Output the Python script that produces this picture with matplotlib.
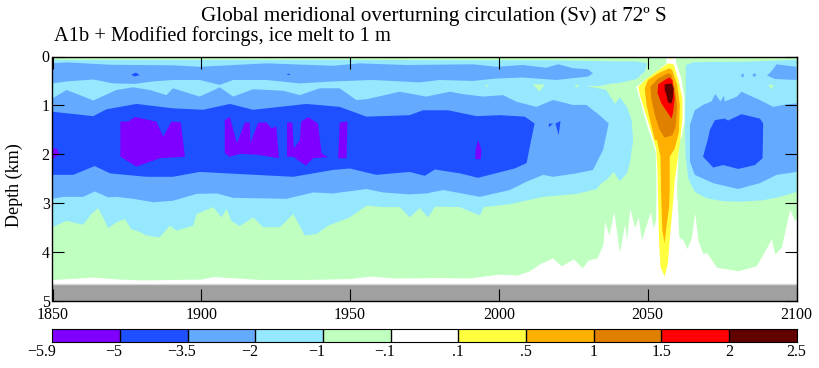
import matplotlib
matplotlib.use("Agg")
import matplotlib.pyplot as plt
from matplotlib.colors import ListedColormap, BoundaryNorm
from matplotlib.transforms import ScaledTranslation
import numpy as np

plt.rcParams['font.family'] = ['Liberation Serif', 'DejaVu Serif']

# contour bands: (year, depth in km)
level_labels = ['\u22125.9', '\u22125', '\u22123.5', '\u22122', '\u22121', '\u2212.1', '.1', '.5', '1', '1.5', '2', '2.5']
colors = ['#7f00ff', '#1e50ff', '#64aaff', '#96e8ff', '#bfffbf', '#ffffff',
          '#ffff40', '#ffb000', '#e08000', '#ff0000', '#600000']
purple, deep, blue, cyan, green, white, yellow, orange, dkorange, red, dkred = colors

# lower edge of the -1..-.1 band
green_edge = [(1850, 4.56), (1864, 4.51), (1872, 4.55), (1880, 4.57), (1900, 4.55), (1904, 4.50), (1920, 4.56),
              (1935, 4.56), (1950, 4.54), (1957, 4.49), (1965, 4.53), (1980, 4.52), (1990, 4.53), (2000, 4.45),
              (2006, 4.47), (2010, 4.39), (2014, 4.23), (2018, 4.12), (2021, 4.28), (2025, 4.14), (2028, 4.32),
              (2030, 4.16), (2033, 4.12), (2035, 3.83), (2035.5, 3.36), (2037, 3.66), (2038.6, 3.17), (2040.5, 4.0),
              (2042.3, 3.41), (2042.9, 3.75), (2044, 3.1), (2045.6, 3.5), (2046.8, 3.28), (2047.9, 3.75),
              (2050.9, 3.17), (2051.8, 3.5), (2052.7, 3.34), (2053, 2.9), (2059.9, 2.9), (2060.2, 3.41), (2060.5, 3.7),
              (2061.9, 3.75), (2063.2, 3.93), (2064.7, 3.70), (2065.8, 3.19),
              (2066.9, 3.77), (2068.6, 4.04), (2069.7, 4.0), (2073.1, 4.31), (2080.4, 4.38), (2086.5, 4.28),
              (2091.6, 3.73), (2092.7, 4.04), (2094.9, 3.90), (2097.7, 3.12), (2099.4, 3.36), (2100, 3.3)]

cyan_left = [(1850, 0.07), (1950, 0.07), (2020, 0.08), (2040, 0.1), (2046, 0.1), (2049.8, 0.14), (2049, 0.31),
             (2046.2, 0.46), (2040.6, 0.54), (2038.3, 0.55), (2034, 0.60), (2029, 0.60), (2036, 0.68), (2039, 0.97),
             (2040.6, 0.83), (2043, 1.03), (2044.6, 1.3), (2045.1, 1.71), (2044, 2.18), (2043, 2.39), (2040.6, 2.55),
             (2038.6, 2.36), (2036.2, 2.52), (2034.5, 2.59), (2032.8, 2.71), (2026, 2.81), (2014.9, 2.87),
             (2003.7, 3.02), (1994.9, 3.08), (1993.6, 3.25), (1986.9, 3.08), (1978.5, 3.07), (1976.2, 3.29),
             (1973.4, 3.10), (1970, 3.29), (1966.7, 3.08), (1961.1, 3.08), (1955.5, 3.05), (1949.9, 3.29),
             (1942.6, 3.46), (1938.7, 3.63), (1934.8, 3.66), (1930.9, 3.22), (1926.4, 3.49), (1920.8, 3.49),
             (1917.4, 3.29), (1912.9, 3.47), (1910.1, 3.36), (1908.5, 3.12), (1906.8, 3.29), (1904, 3.08),
             (1898.4, 3.22), (1897.3, 3.46), (1891.7, 3.56), (1889.4, 3.46), (1886, 3.70), (1881.6, 3.66),
             (1878.8, 3.575), (1876.5, 3.53), (1874.3, 3.32), (1871.5, 3.39), (1868.7, 3.51), (1867, 3.29),
             (1865.3, 3.10), (1863.1, 3.22), (1860.3, 3.44), (1854.7, 3.36), (1850, 3.49)]

cyan_right = [(2062.8, 0.175), (2065.3, 0.12), (2072, 0.11), (2083.2, 0.106), (2099.4, 0.07), (2100, 0.07), (2100, 2.77),
              (2094.4, 2.87), (2088.8, 2.94), (2081, 2.97), (2075.4, 2.96), (2069.8, 2.9), (2065.8, 2.77),
              (2063.6, 2.49), (2062.7, 2.02), (2062.5, 1.33), (2062.8, 0.65)]

blue_upper = [(1850, 0.14), (1854.7, 0.12), (1870, 0.17), (1890.5, 0.18), (1899.5, 0.21), (1921.9, 0.14), (1944.3, 0.19),
              (1953.2, 0.14), (1968.9, 0.174), (1991.3, 0.16), (1999.1, 0.21), (2008, 0.174), (2015.9, 0.23),
              (2019.9, 0.16), (2024.9, 0.24), (2029.9, 0.26), (2031.6, 0.345), (2029.9, 0.41), (2019.3, 0.48),
              (2008.1, 0.43), (1999.1, 0.45), (1991.3, 0.50), (1980.1, 0.48), (1973.4, 0.53), (1957.7, 0.48),
              (1944.3, 0.51), (1933.1, 0.55), (1921.9, 0.48), (1910.7, 0.48), (1906.2, 0.58), (1899.5, 0.48),
              (1890.5, 0.48), (1883.8, 0.51), (1877.7, 0.56), (1870.4, 0.55), (1863.7, 0.47), (1854.7, 0.51), (1850, 0.55)]

blue_mid = [(1850, 0.855), (1854.7, 0.685), (1859.2, 0.79), (1863.7, 0.90), (1871.5, 0.685), (1877.1, 0.63),
            (1882.7, 0.685), (1888.3, 0.79), (1890.5, 0.65), (1899.5, 0.82), (1906.2, 0.63), (1910.7, 0.82),
            (1917.4, 0.67), (1927.5, 0.70), (1933.1, 0.79), (1939.8, 0.65), (1946.5, 0.65), (1952.1, 0.89),
            (1955.5, 0.875), (1966.7, 0.72), (1975.6, 0.82), (1983.5, 0.72), (1988, 0.77), (1994.7, 0.82),
            (2001.4, 0.79), (2005.9, 0.925), (2012.6, 1.03), (2018.2, 0.89), (2024.9, 0.99), (2029.4, 0.99),
            (2033.8, 1.2), (2036.9, 1.37), (2035, 1.91), (2031.6, 2.32), (2026, 2.39), (2018.2, 2.46), (2014.9, 2.42),
            (2009.3, 2.56), (2003.7, 2.73), (1993.6, 2.87), (1981.3, 2.73), (1975.7, 2.8), (1970, 2.82), (1961.1, 2.78),
            (1955.5, 2.71), (1944.3, 2.80), (1937.6, 2.78), (1928.6, 2.91), (1910.7, 2.89), (1905.1, 2.80),
            (1898.4, 2.81), (1890.5, 2.95), (1883.8, 2.98), (1877.1, 2.91), (1871.5, 2.87), (1868.7, 2.88),
            (1864.2, 2.76), (1860.3, 2.87), (1853.6, 2.87), (1850, 2.91)]

blue_right = [(2100, 0.96), (2095.5, 0.99), (2092.2, 1.03), (2087.7, 0.89), (2081.5, 0.72), (2080, 0.82), (2075.9, 0.92),
              (2075.6, 0.80), (2074.5, 0.92), (2072.7, 0.77), (2071.4, 0.92), (2068.6, 0.99), (2065.8, 1.1),
              (2064.2, 1.40), (2064.2, 2.15), (2065.8, 2.42), (2072, 2.59), (2080.4, 2.71), (2087.7, 2.59),
              (2093.3, 2.42), (2100, 2.36)]
blue_corner = [(2100, 0.21), (2093.3, 0.16), (2091.9, 0.28), (2090.1, 0.39), (2092.7, 0.46), (2100, 0.48)]
blue_spot1 = [(2081.3, 0.39), (2081.9, 0.34), (2082.5, 0.39), (2081.9, 0.43)]
blue_spot2 = [(2085.1, 0.38), (2085.8, 0.34), (2086.6, 0.38), (2085.8, 0.42)]

deep_left = [(1850, 1.13), (1863.7, 1.22), (1868.1, 1.08), (1878.2, 0.97), (1890.5, 1.06), (1900.6, 1.09), (1909.6, 0.97),
             (1917.4, 1.09), (1935.3, 0.97), (1946.5, 1.03), (1955.5, 1.23), (1970, 1.2), (1974.5, 1.1), (1982.9, 1.1),
             (1992.5, 1.22), (2000.3, 1.2), (2008.7, 1.23), (2012, 1.37), (2010.4, 1.84), (2009.3, 2.18), (2005.3, 2.29),
             (1993, 2.48), (1986.9, 2.39), (1978.5, 2.31), (1975.1, 2.44), (1970, 2.36), (1958.8, 2.42), (1949.9, 2.29),
             (1944.3, 2.32), (1930.9, 2.46), (1908.5, 2.39), (1899.5, 2.36), (1890.5, 2.46), (1881.6, 2.46),
             (1869.3, 2.39), (1864.2, 2.24), (1857, 2.42), (1850, 2.42)]
deep_right = [(2072.6, 1.30), (2075.9, 1.27), (2077, 1.31), (2081.5, 1.18), (2087.7, 1.27), (2088.8, 1.37), (2088.6, 2.08),
              (2086, 2.22), (2080.4, 2.30), (2075.4, 2.22), (2072, 2.27), (2068.6, 2.05), (2070.3, 1.67), (2070.9, 1.50)]
deep_spot1 = [(2016.8, 1.37), (2018.2, 1.37), (2016.8, 1.45)]
deep_spot2 = [(2019, 1.37), (2020.7, 1.32), (2020.1, 1.61)]
deep_spot3 = [(1876.5, 0.37), (1878, 0.33), (1879.3, 0.38), (1877.5, 0.41)]
deep_spot4 = [(1928.5, 0.37), (1929.5, 0.35), (1930, 0.38)]

purple_a = [(1872.8, 1.33), (1875.4, 1.33), (1877.7, 1.24), (1884.9, 1.33), (1887.2, 1.64), (1890, 1.33), (1893.1, 1.35),
            (1894.5, 2.05), (1886.1, 2.08), (1878.2, 2.25), (1872.8, 2.05)]
purple_b = [(1907.9, 1.30), (1909.6, 1.24), (1912, 1.78), (1914.6, 1.35), (1916.3, 1.35), (1916.5, 1.78), (1919.1, 1.35),
            (1921.9, 1.35), (1923.6, 1.47), (1925.2, 1.43), (1926.1, 2.08), (1919.1, 2.01), (1912.9, 1.99),
            (1909.6, 2.05), (1907.9, 1.98)]
purple_c = [(1928.8, 1.35), (1930.6, 1.35), (1931.1, 1.88), (1933.1, 1.71), (1933.6, 1.33), (1935.9, 1.24), (1939.2, 1.37),
            (1940.4, 1.98), (1942.6, 2.06), (1937.6, 2.08), (1935.1, 2.23), (1930.9, 2.05), (1928.8, 2.05)]
purple_d = [(1946.5, 1.35), (1949.1, 1.33), (1948.8, 2.08), (1946, 2.08)]
purple_e = [(1993, 1.71), (1994.1, 1.91), (1993.9, 2.1), (1992.1, 2.1), (1992.2, 1.91)]
purple_f = [(1850, 1.88), (1851.3, 1.88), (1852.5, 1.99), (1850, 2.1)]

green_spot1 = [(2011.4, 0.57), (2015.4, 0.57), (2013.7, 0.72)]
green_spot2 = [(2025.5, 0.58), (2027, 0.59), (2026, 0.64)]
green_spot3 = [(2090.5, 0.58), (2092.4, 0.58), (2091.6, 0.67)]
green_spot4 = [(1995.5, 0.58), (1996.5, 0.58), (1996, 0.63)]

plume_white = [(2056.3, 0), (2059.4, 0), (2059.6, 0.14), (2061.3, 0.45), (2062.4, 0.86), (2062.4, 1.33), (2061.3, 1.67),
               (2060.5, 1.71), (2059.9, 2.6), (2059.9, 3.41), (2056, 4.6), (2052.9, 3.75), (2052.9, 2.53), (2052.7, 1.95),
               (2051.5, 1.71), (2050.1, 1.47), (2048.4, 1.1), (2047.3, 0.86), (2046.2, 0.62), (2052.4, 0.345), (2056.3, 0.14)]
plume_yellow = [(2056.8, 0.14), (2058.7, 0.16), (2060.2, 0.45), (2061.7, 0.86), (2061.7, 1.27), (2060.8, 1.78),
                (2059.1, 2.53), (2058.5, 3.0), (2057.4, 3.75), (2056.8, 4.23), (2055.7, 4.50), (2054.3, 4.3),
                (2053.8, 3.75), (2053.3, 2.39), (2052.9, 1.91), (2051.8, 1.67), (2050.1, 1.33), (2048.7, 1.06),
                (2047.5, 0.82), (2046.8, 0.62), (2049.6, 0.46), (2052.9, 0.31)]
plume_top = [(2056.6, 0), (2059, 0), (2058.5, 0.04), (2057.2, 0.04)]
plume_orange = [(2057.2, 0.24), (2058.3, 0.28), (2059.9, 0.58), (2060.8, 0.99), (2060.5, 1.54), (2059.4, 1.81),
                (2059.1, 1.88), (2057.4, 2.05), (2057.4, 2.73), (2057.2, 3.07), (2056.3, 3.48), (2055.7, 3.82),
                (2054.9, 3.55), (2054.5, 2.8), (2054.3, 2.05), (2053.1, 1.71), (2052.4, 1.71), (2050.9, 1.33),
                (2049.6, 0.99), (2049, 0.65), (2050.1, 0.48), (2053.5, 0.345)]
plume_dkorange = [(2056.8, 0.345), (2057.9, 0.37), (2059.1, 0.65), (2059.9, 1.03), (2059.4, 1.44), (2058.3, 1.61),
                  (2055.7, 1.66), (2054, 1.5), (2052.4, 1.2), (2051.2, 0.86), (2050.9, 0.62), (2053.5, 0.45)]
plume_red = [(2057.2, 0.43), (2058.3, 0.48), (2059.1, 0.86), (2058.5, 1.16), (2058, 1.27), (2054.6, 0.96), (2053.3, 0.75),
             (2053.5, 0.57), (2055.7, 0.48)]
plume_dkred = [(2055.7, 0.57), (2058, 0.55), (2058.7, 0.65), (2058.5, 0.82), (2058, 0.96), (2056.8, 0.94), (2056.3, 0.79),
               (2055.7, 0.69)]

layers = [(cyan_left, cyan), (cyan_right, cyan),
          (blue_upper, blue), (blue_mid, blue), (blue_right, blue), (blue_corner, blue), (blue_spot1, blue), (blue_spot2, blue),
          (deep_left, deep), (deep_right, deep), (deep_spot1, deep), (deep_spot2, deep), (deep_spot3, deep), (deep_spot4, deep),
          (purple_a, purple), (purple_b, purple), (purple_c, purple), (purple_d, purple), (purple_e, purple), (purple_f, purple),
          (green_spot1, green), (green_spot2, green), (green_spot3, green), (green_spot4, green),
          (plume_white, white), (plume_yellow, yellow), (plume_top, yellow), (plume_orange, orange),
          (plume_dkorange, dkorange), (plume_red, red), (plume_dkred, dkred)]

#%%
fig = plt.figure(figsize=(8.19, 3.68), dpi=100)
W, H = 819.0, 368.0
ax = fig.add_axes([52.5 / W, 1 - 301 / H, 744 / W, 244.5 / H])

yrs, kms = zip(*green_edge)
ax.fill_between(yrs, 0, kms, color=green, lw=0)
for pts, c in layers:
    x, y = zip(*pts)
    ax.fill(x, y, color=c, lw=0)

# sea floor
ax.axhspan(4.66, 5, color='#a0a0a0', lw=0)
ax.axhline(4.65, color='#d8d8d8', lw=1)

ax.set_xlim(1850, 2100)
ax.set_ylim(5, 0)
ax.set_xticks([1850, 1900, 1950, 2000, 2050, 2100])
ax.set_yticks([0, 1, 2, 3, 4, 5])
ax.tick_params(direction='in', length=8.6, width=0.8, top=True, right=True, labelsize=11.5, colors='black')
ax.tick_params(axis='x', pad=4)
ax.tick_params(axis='y', pad=2)
for s in ax.spines.values():
    s.set_linewidth(1)
    s.set_zorder(5)

fig.text(14 / W, 1 - 185.5 / H, 'Depth (km)', rotation=90, ha='center', va='center', fontsize=13)
fig.text(434 / W, 1 - 16 / H, 'Global meridional overturning circulation (Sv) at 72\u00ba S', ha='center', va='center', fontsize=15.2)
fig.text(54 / W, 1 - 36 / H, 'A1b + Modified forcings, ice melt to 1 m', ha='left', va='center', fontsize=14.7)

# colour key
cax = fig.add_axes([52.5 / W, 1 - 341.5 / H, 744 / W, 13 / H])
edges = np.arange(len(colors) + 1)
cmap = ListedColormap(colors)
cax.pcolormesh(edges, [0, 1], [edges[:-1]], cmap=cmap, norm=BoundaryNorm(edges, cmap.N))
for e in edges[1:-1]:
    cax.axvline(e, color='black', lw=1)
cax.set_xlim(0, len(colors))
cax.set_yticks([])
cax.set_xticks(edges)
cax.set_xticklabels(level_labels, fontsize=11.5)
cax.tick_params(length=0, pad=2)
# the negative labels sit left of their edge
for lab, txt in zip(cax.get_xticklabels(), level_labels):
    if txt.startswith('\u2212'):
        px = -11 if txt == '\u22125.9' else -6
        lab.set_transform(lab.get_transform() + ScaledTranslation(px / 100, 0, fig.dpi_scale_trans))

fig.savefig('out.png', dpi=100)
